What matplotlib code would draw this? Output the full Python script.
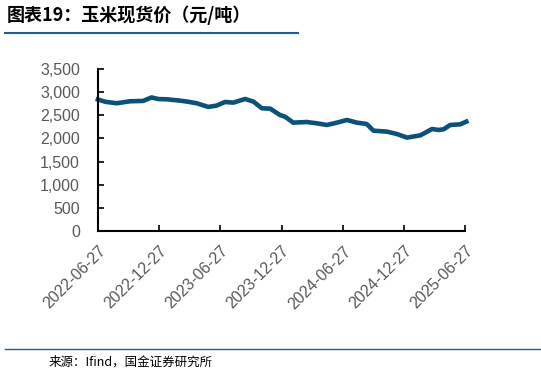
import matplotlib.pyplot as plt
import matplotlib.dates as mdates
import numpy as np
import pandas as pd

plt.rcParams['font.family'] = ['Liberation Sans', 'Noto Sans CJK SC', 'DejaVu Sans']

# values
dates = ["2022-06-27", "2022-07-20", "2022-08-22", "2022-09-10", "2022-10-01", "2022-11-09",
         "2022-12-04", "2022-12-25", "2023-01-18", "2023-02-27", "2023-03-25", "2023-04-18",
         "2023-05-22", "2023-06-16", "2023-07-11", "2023-08-05", "2023-09-09", "2023-10-04",
         "2023-10-29", "2023-11-23", "2023-12-22", "2024-01-06", "2024-01-31", "2024-03-11",
         "2024-04-10", "2024-05-10", "2024-06-09", "2024-07-09", "2024-08-08", "2024-09-06",
         "2024-09-26", "2024-11-05", "2024-12-05", "2025-01-04", "2025-02-13", "2025-03-20",
         "2025-04-08", "2025-04-23", "2025-05-13", "2025-06-12", "2025-06-30"]
price = [2840, 2790, 2760, 2780, 2802, 2810, 2885, 2850, 2845, 2816, 2790, 2759,
         2680, 2708, 2787, 2773, 2852, 2795, 2651, 2643, 2506, 2470, 2340, 2354,
         2326, 2290, 2340, 2398, 2340, 2311, 2167, 2146, 2095, 2016, 2066, 2203,
         2182, 2196, 2290, 2304, 2362]
tick_dates = ["2022-06-27", "2022-12-27", "2023-06-27", "2023-12-27",
              "2024-06-27", "2024-12-27", "2025-06-27"]

x = pd.to_datetime(dates)
ticks = pd.to_datetime(tick_dates)

fig = plt.figure(figsize=(5.41, 3.73), dpi=100)
ax = fig.add_axes([0.181, 0.381, 0.679, 0.434])
ax.plot(x, price, color="#0b5178", lw=3.3, solid_joinstyle="round", clip_on=False)

ax.set_ylim(0, 3500)
ax.set_yticks(np.arange(0, 3501, 500))
ax.set_yticklabels([f"{v:,}" for v in range(0, 3501, 500)])
ax.set_xlim(ticks[0], ticks[-1])
ax.set_xticks(ticks)
ax.set_xticklabels(tick_dates, rotation=45, ha="right", rotation_mode="anchor")
ax.tick_params(direction="in", length=4, width=1.2, colors="black", labelcolor="#595959",
               labelsize=11.5)
ax.tick_params(axis="y", pad=13)
ax.tick_params(axis="x", pad=9)
for s in ["top", "right"]:
    ax.spines[s].set_visible(False)
for s in ["left", "bottom"]:
    ax.spines[s].set_linewidth(1.5)

fig.text(0.012, 0.958, "图表19：玉米现货价（元/吨）", fontsize=13, fontweight="bold",
         style="italic", family=["Noto Sans CJK SC"], va="center")
fig.add_artist(plt.Line2D([0.01, 0.551], [0.911, 0.911], color="#1f5f8b", lw=1.5))
fig.add_artist(plt.Line2D([0.01, 1.0], [0.065, 0.065], color="#1f5f8b", lw=1))
fig.text(0.09, 0.03, "来源：Ifind，国金证券研究所", fontsize=9, family=["Noto Sans CJK SC"],
         va="center")

fig.savefig("out.png", dpi=100)
